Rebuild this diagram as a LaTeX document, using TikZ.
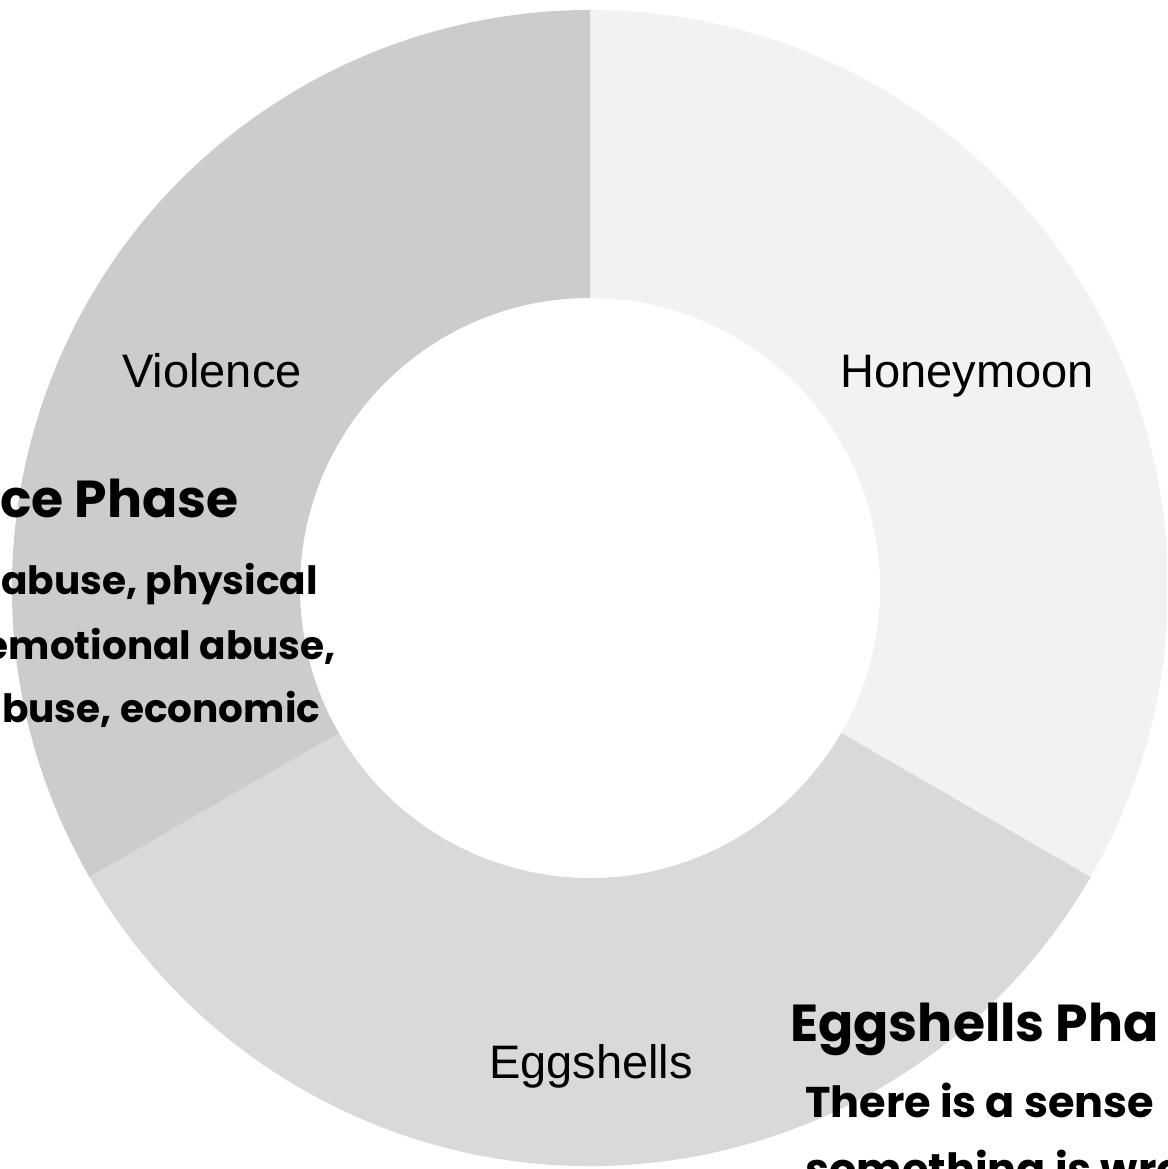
\documentclass[tikz,border=0pt]{standalone}
\usepackage{fontspec}
\usetikzlibrary{calc}
\setmainfont{Liberation Sans}
\newfontfamily\comicfont{Poppins}
\definecolor{violencec}{HTML}{CCCCCC}
\definecolor{eggc}{HTML}{D9D9D9}
\definecolor{honeyc}{HTML}{F2F2F2}
\tikzset{
  slice/.style={draw=none},
  slicelabel/.style={inner sep=0pt, anchor=base, font=\fontsize{47}{56}\selectfont, text=black},
  phasehead/.style={inner sep=0pt, anchor=base west, font=\comicfont\bfseries\fontsize{52}{60}\selectfont, text=black},
  phasebody/.style={inner sep=0pt, anchor=base west, font=\comicfont\bfseries\fontsize{39}{48}\selectfont, text=black},
  phasebodywide/.style={phasebody, font=\comicfont\bfseries\fontsize{43}{50}\selectfont},
}
\begin{document}
\begin{tikzpicture}[x=1pt,y=1pt]
\useasboundingbox (0,0) rectangle (1167,1169);
\clip (0,0) rectangle (1167,1169);
\coordinate (c) at (590,581);
% slices
\fill[honeyc,slice] ($(c)+(90:578pt)$) arc[start angle=90, end angle=-30, radius=578pt]
  -- ($(c)+(-30:290pt)$) arc[start angle=-30, end angle=90, radius=290pt] -- cycle;
\fill[eggc,slice] ($(c)+(-30:578pt)$) arc[start angle=-30, end angle=-150, radius=578pt]
  -- ($(c)+(-150:290pt)$) arc[start angle=-150, end angle=-30, radius=290pt] -- cycle;
\fill[violencec,slice] ($(c)+(210:578pt)$) arc[start angle=210, end angle=90, radius=578pt]
  -- ($(c)+(90:290pt)$) arc[start angle=90, end angle=210, radius=290pt] -- cycle;
% labels
\node[slicelabel] (lviol) at (212,781) {Violence};
\node[slicelabel] (lhoney) at (967,781) {Honeymoon};
\node[slicelabel] (legg) at (591,90) {Eggshells};
% violence phase text (clipped at left, as in the reference)
\node[phasehead] (vh) at (0,651) {ce Phase};
\node[phasebody, anchor=base east] (vb1) at (318,574) {abuse, physical};
\node[phasebody, anchor=base east] (vb2) at (336,509) {emotional abuse,};
\node[phasebody] (vb3) at (2,446) {buse, economic};
% eggshells phase text (clipped at right/bottom, as in the reference)
\node[phasehead] (eh) at (790,127) {Eggshells Pha};
\node[phasebodywide] (eb1) at (805,51) {There is a sense};
\node[phasebodywide] (eb2) at (805,-16) {something is wro};
\end{tikzpicture}
\end{document}
